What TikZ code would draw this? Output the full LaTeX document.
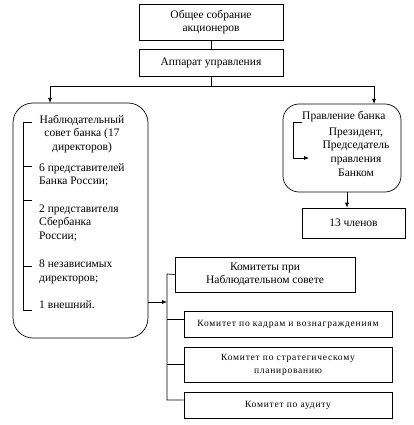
\documentclass[tikz,border=0pt]{standalone}
\usepackage{fontspec}
\setmainfont{Liberation Serif}
\newfontfamily\spacedfont[LetterSpace=8]{Liberation Serif}
\usetikzlibrary{arrows.meta}
\begin{document}
\begin{tikzpicture}[x=1pt,y=-1pt, font=\fontsize{11.5}{13.6}\selectfont,
 box/.style={draw, line width=0.7pt, inner sep=0pt, align=center},
 txt/.style={inner sep=0pt, align=center},
 ln/.style={line width=0.7pt},
 arr/.style={line width=0.7pt, -{Latex[length=5pt,width=4pt]}},
 cfont/.style={font=\spacedfont\fontsize{9.5}{13}\selectfont}]
\useasboundingbox (0,0) rectangle (414,425);

\node[box, minimum width=144pt, minimum height=36pt] (gm) at (211,22) {Общее собрание\\акционеров};
\node[box, minimum width=144pt, minimum height=27pt] (ap) at (211,62.5) {Аппарат управления};
\node[box, rounded corners=20pt, minimum width=135pt, minimum height=235pt] (lb) at (80.5,220.5) {};
\node[box, rounded corners=16pt, minimum width=118pt, minimum height=88pt] (rb) at (342,148) {};
\node[box, minimum width=103pt, minimum height=30pt] (m13) at (353.5,223) {13 членов};
\node[box, minimum width=180pt, minimum height=35pt] (c0) at (265,274.5) {Комитеты при\\Наблюдательном совете};
\node[box, cfont, minimum width=208pt, minimum height=26pt] (c1) at (288,324) {Комитет по кадрам и вознаграждениям};
\node[box, cfont, minimum width=208pt, minimum height=35pt] (c2) at (288,364.5) {Комитет по стратегическому\\планированию};
\node[box, cfont, minimum width=208pt, minimum height=26pt] (c3) at (288,405) {Комитет по аудиту};

% left box texts
\node[txt] (t0) at (82,134) {Наблюдательный\\совет банка (17\\директоров)};
\node[txt, anchor=west, align=left] (t1) at (39,175) {6 представителей\\Банка России;};
\node[txt, anchor=west, align=left] (t2) at (39,223) {2 представителя\\Сбербанка\\России;};
\node[txt, anchor=west, align=left] (t3) at (39,272) {8 независимых\\директоров;};
\node[txt, anchor=west] (t4) at (39,305) {1 внешний.};

% bracket
\coordinate (b0) at (23,122);
\coordinate (b4) at (23,310);
\draw[ln] ([xshift=9pt]b0) -- (b0) -- (b4) -- ([xshift=9pt]b4);
\foreach \yy in {166,200,266} \draw[ln] (23,\yy) -- (32,\yy);

% right box texts
\node[txt, anchor=west] (r0) at (302,117) {Правление банка};
\node[txt] (r1) at (356,152) {Президент,\\Председатель\\правления\\Банком};
\coordinate (ia) at (302,122);
\coordinate (ib) at (309,158);
\draw[arr] (ia) -- (293,122) |- (ib);

% tree connectors
\coordinate (j) at (211,86);
\coordinate (la) at (50,103);
\coordinate (ra) at (374,104);
\draw[ln] (gm) -- (ap);
\draw[ln] (ap) -- (j);
\draw[arr] (j) -| (la);
\draw[arr] (j) -| (ra);
\coordinate (rbs) at (347,192);
\draw[arr] (rbs) -- (m13.north -| rbs);

% committees
\coordinate (v0) at (167,274);
\coordinate (v1) at (167,319);
\coordinate (v2) at (167,364);
\coordinate (v3) at (167,400);
\coordinate (va) at (167,302);
\draw[ln] (c0.west) -- (v0) -- (v3) -- (c3.west |- v3);
\draw[ln] (v1) -- (c1.west |- v1);
\draw[ln] (v2) -- (c2.west |- v2);
\draw[arr] (lb.east |- va) -- (va);
\end{tikzpicture}
\end{document}
